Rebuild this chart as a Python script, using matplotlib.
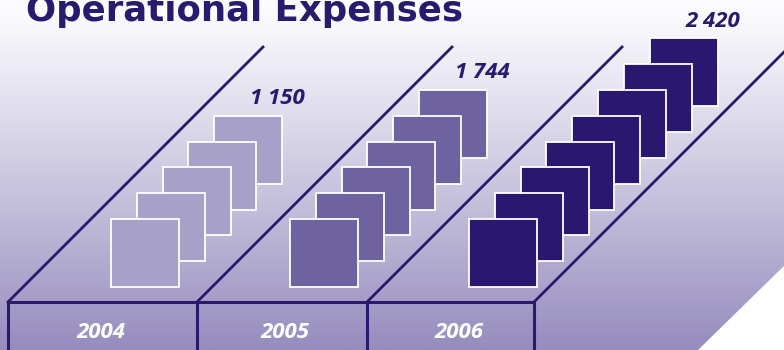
import matplotlib.pyplot as plt
import numpy as np
from matplotlib.patches import Rectangle, Polygon

# yearly operational expenses and the number of pictogram squares per year
years = ['2004', '2005', '2006']
expenses = [1150, 1744, 2420]
squares = [5, 6, 8]

navy = '#2a1a6e'
fills = ['#a7a1ca', '#6e62a0', '#2a1870']
plt.rcParams['font.family'] = ['Open Sans', 'DejaVu Sans']

W, H = 784, 350
fig = plt.figure(figsize=(W / 100, H / 100), dpi=100)
ax = fig.add_axes([0, 0, 1, 1])

# vertical gradient behind everything
t = np.linspace(0, 1, 256)[:, None, None]
top = np.array([253, 253, 255]) / 255
bottom = np.array([150, 140, 190]) / 255
grad = top + (bottom - top) * t ** 1.1
ax.imshow(grad, extent=[0, W, H, 0], aspect='auto', zorder=0)
ax.set_xlim(0, W)
ax.set_ylim(H, 0)
ax.axis('off')

# white corner at the side of the box
ax.add_patch(Polygon([(698, H), (W + 2, 264), (W + 2, H)], closed=True,
                     fc='white', ec='none', zorder=1))

# box outline: front edge, dividers and receding diagonals
front_y = 302
depth = 255
dividers = [8, 197, 367, 534]
ax.plot([dividers[0], dividers[-1]], [front_y, front_y], color=navy, lw=2.2, zorder=2)
for x in dividers:
    ax.plot([x, x], [front_y, H + 2], color=navy, lw=2.2, zorder=2)
    ax.plot([x, x + depth], [front_y, front_y - depth], color=navy, lw=2, zorder=2)

# stacked squares
size = 68
step = 25.8
base_x = 111
gap = 179
base_y = 219
for i, (year, val, n) in enumerate(zip(years, expenses, squares)):
    x0 = base_x + gap * i
    for k in reversed(range(n)):
        ax.add_patch(Rectangle((x0 + k * step, base_y - k * step), size, size,
                               fc=fills[i], ec='white', lw=1.3, zorder=10 + n - k))
    tx = x0 + (n - 1) * step + 63
    ty = base_y - (n - 1) * step - 17
    ax.text(tx, ty, f'{val:,}'.replace(',', ' '), ha='center', va='center',
            fontsize=16, fontweight='bold', fontstyle='italic', color=navy, zorder=30)

# year labels on the front face
year_x = [101, 285, 459]
for x, year in zip(year_x, years):
    ax.text(x, 333, year, ha='center', va='center', fontsize=16,
            fontweight='bold', fontstyle='italic', color='white', zorder=30)

ax.text(26, 21, 'Operational Expenses', ha='left', va='baseline', fontsize=25.6,
        fontweight='bold', color=navy, family=['DejaVu Sans'], zorder=30)

fig.savefig('out.png', dpi=100)
